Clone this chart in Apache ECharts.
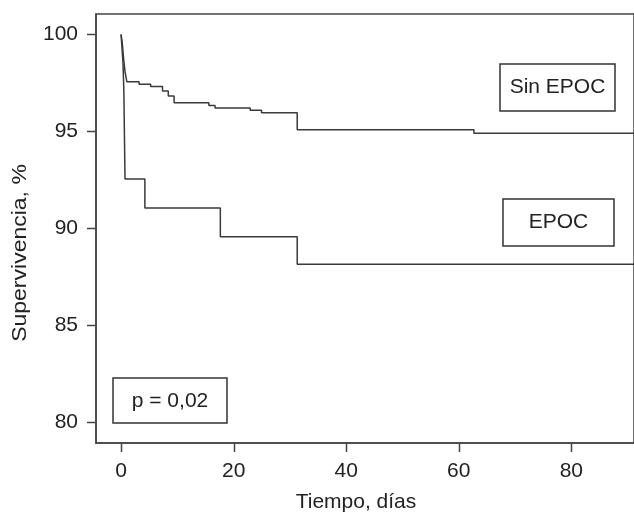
<!DOCTYPE html>
<html>
<head>
<meta charset="utf-8">
<script src="https://cdn.jsdelivr.net/npm/echarts@6/dist/echarts.min.js"></script>
<style>html,body{margin:0;padding:0;background:#fff}#c{width:634px;height:512px}</style>
</head>
<body>
<div id="c"></div>
<script>
// Data (Kaplan-Meier steps)
var sinEpocTimes = [0, 0.2, 0.35, 0.5, 0.7, 1.03, 3.2, 5.26, 7.37, 8.39, 9.42, 15.6, 16.7, 22.95, 24.96, 31.3, 62.7, 95];
var sinEpocSurv  = [100, 99.6, 99.1, 98.6, 98.1, 97.56, 97.43, 97.31, 97.08, 96.83, 96.48, 96.33, 96.21, 96.09, 95.96, 95.09, 94.9, 94.9];
var epocTimes = [0, 0.35, 0.5, 0.7, 4.23, 17.64, 31.3, 95];
var epocSurv  = [100, 98.5, 97.0, 92.54, 91.05, 89.56, 88.14, 88.14];
var xTicks = [0, 20, 40, 60, 80];
var yTicks = [80, 85, 90, 95, 100];
var xTitle = 'Tiempo, días';
var yTitle = 'Supervivencia, %';
var labelSin = 'Sin EPOC';
var labelEpoc = 'EPOC';
var pText = 'p = 0,02';

function zip(a, b) { return a.map(function (v, i) { return [v, b[i]]; }); }

var FONT = '"Liberation Sans", Arial, sans-serif';
var TXT = '#222';
var LINE = '#3a3a3a';
var AX = '#444';
var FS = 21;
var GRID = { left: 96, top: 14, bottom: 69, right: -20 };
var TICK = 9;

var chart = echarts.init(document.getElementById('c'), null, { renderer: 'canvas' });
chart.setOption({
  animation: false,
  backgroundColor: '#fff',
  grid: { left: GRID.left, top: GRID.top, bottom: GRID.bottom, right: GRID.right, show: true, borderColor: AX, borderWidth: 1.5, containLabel: false },
  xAxis: {
    type: 'value', min: -4.454, max: 91.14, position: 'bottom',
    axisLine: { show: true, onZero: false, lineStyle: { color: AX, width: 1.5 } },
    splitLine: { show: false },
    axisTick: { show: false },
    axisLabel: { customValues: xTicks, margin: 18, color: TXT, fontSize: FS, fontFamily: FONT }
  },
  yAxis: {
    type: 'value', min: 78.916, max: 101.058, position: 'left',
    axisLine: { show: true, onZero: false, lineStyle: { color: AX, width: 1.5 } },
    splitLine: { show: false },
    axisTick: { show: false },
    axisLabel: { customValues: yTicks, margin: 18, color: TXT, fontSize: FS, fontFamily: FONT }
  },
  series: [
    { type: 'line', step: 'end', data: zip(sinEpocTimes, sinEpocSurv), symbol: 'none', lineStyle: { color: LINE, width: 1.5 }, clip: true },
    { type: 'line', step: 'end', data: zip(epocTimes, epocSurv), symbol: 'none', lineStyle: { color: LINE, width: 1.5 }, clip: true }
  ]
});

// Tick marks placed through the chart's own scales
var H = chart.getHeight();
var bottomY = H - GRID.bottom;
var ticks = [];
xTicks.forEach(function (v) {
  var px = Math.round(chart.convertToPixel({ xAxisIndex: 0 }, v)) + 0.5;
  ticks.push({ type: 'line', silent: true, shape: { x1: px, y1: bottomY, x2: px, y2: bottomY + TICK }, style: { stroke: AX, lineWidth: 1.5 } });
});
yTicks.forEach(function (v) {
  var py = Math.round(chart.convertToPixel({ yAxisIndex: 0 }, v)) + 0.5;
  ticks.push({ type: 'line', silent: true, shape: { x1: GRID.left - TICK, y1: py, x2: GRID.left, y2: py }, style: { stroke: AX, lineWidth: 1.5 } });
});

chart.setOption({
  graphic: ticks.concat([
    { type: 'rect', shape: { x: 500, y: 64, width: 115, height: 47 }, style: { fill: '#fff', stroke: '#333', lineWidth: 1.5 } },
    { type: 'text', x: 557.5, y: 87.5, style: { text: labelSin, fill: TXT, font: FS + 'px ' + FONT, align: 'center', verticalAlign: 'middle' } },
    { type: 'rect', shape: { x: 503, y: 199, width: 111, height: 47 }, style: { fill: '#fff', stroke: '#333', lineWidth: 1.5 } },
    { type: 'text', x: 558.5, y: 222.5, style: { text: labelEpoc, fill: TXT, font: FS + 'px ' + FONT, align: 'center', verticalAlign: 'middle' } },
    { type: 'rect', shape: { x: 113, y: 378, width: 114, height: 45 }, style: { fill: '#fff', stroke: '#333', lineWidth: 1.5 } },
    { type: 'text', x: 170, y: 401, style: { text: pText, fill: TXT, font: FS + 'px ' + FONT, align: 'center', verticalAlign: 'middle' } },
    { type: 'text', x: 356, y: 502, style: { text: xTitle, fill: TXT, font: FS + 'px ' + FONT, align: 'center', verticalAlign: 'middle' } },
    { type: 'text', x: 20, y: 253, rotation: Math.PI / 2, scaleX: 1.15, style: { text: yTitle, fill: TXT, font: '20px ' + FONT, align: 'center', verticalAlign: 'middle' } }
  ])
});
</script>
</body>
</html>
